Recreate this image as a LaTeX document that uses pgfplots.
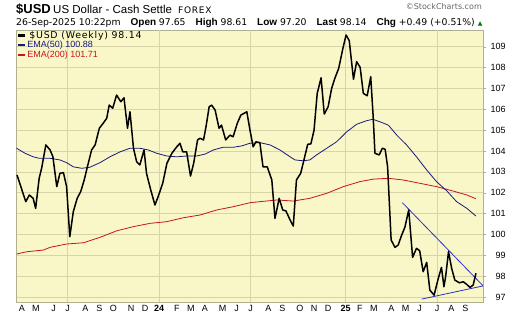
\documentclass[border=0pt]{standalone}
\usepackage{fontspec}
\setmainfont{Liberation Sans}
\newfontfamily\dejavu{DejaVu Sans}
\newfontfamily\dejavuspaced[LetterSpace=8]{DejaVu Sans}
\usepackage{pgfplots}
\pgfplotsset{compat=1.18}
\usepackage{pgfplotstable}

\definecolor{bgyellow}{RGB}{249,247,200}
\definecolor{gridc}{RGB}{214,212,168}
\definecolor{framec}{RGB}{175,175,145}
\definecolor{emablue}{RGB}{25,25,125}
\definecolor{emared}{RGB}{200,20,30}
\definecolor{trendblue}{RGB}{45,45,205}
\definecolor{upgreen}{RGB}{0,120,0}

\newcommand{\hv}[1]{{\dejavu\fontsize{9.3}{10}\selectfont #1}}
\newcommand{\hb}[1]{{\fontsize{10}{10}\selectfont\bfseries #1}}

% weeks relative to Fri 2024-01-05 ; weekly close of $USD
\pgfplotstableread{
w v
-40.4 102.85
-39.3 102.29
-37.9 101.57
-36.9 101.89
-35.8 101.73
-35.1 101.25
-34.1 102.69
-33.4 103.17
-32.2 104.29
-31.0 104.05
-30.2 103.73
-29.1 102.29
-28.2 102.93
-27.2 102.96
-26.3 102.29
-25.4 99.89
-24.4 101.09
-23.3 101.73
-22.3 102.05
-21.3 102.61
-20.4 103.24
-19.2 104.05
-18.2 104.29
-17.0 105.09
-15.9 105.33
-14.9 105.57
-14.2 106.20
-13.2 106.05
-12.1 106.68
-10.9 106.36
-10.0 106.55
-9.0 105.09
-8.3 105.88
-7.3 104.13
-6.4 103.48
-5.5 103.33
-4.3 104.05
-3.6 102.93
-2.4 102.13
-1.2 101.41
-0.3 101.81
1.0 102.45
2.2 103.41
3.6 103.89
5.0 104.20
5.9 104.37
6.7 103.96
7.8 103.96
8.9 102.80
9.8 103.41
10.9 104.53
11.6 104.61
12.6 104.53
13.3 105.16
14.2 106.12
14.9 106.20
15.9 105.96
17.0 105.09
17.7 105.24
18.9 104.53
20.1 104.76
21.0 104.68
22.2 105.33
23.2 105.72
24.9 105.88
25.8 105.00
26.7 104.20
27.5 104.44
28.6 104.40
29.5 103.24
30.7 103.24
32.0 102.61
32.9 100.77
34.1 101.73
35.1 101.17
36.0 101.13
37.2 100.69
38.1 100.40
39.0 102.61
40.2 102.93
40.9 103.41
42.2 104.32
43.1 104.34
44.0 105.00
44.9 106.76
46.0 107.51
46.9 105.77
48.0 106.12
49.0 107.00
49.9 107.48
51.0 107.96
52.2 108.92
53.1 109.56
54.0 109.29
55.2 107.44
56.1 108.28
57.1 108.01
58.0 106.76
59.1 106.65
60.1 107.56
60.8 105.64
61.3 103.89
62.5 103.81
63.4 104.13
64.2 104.08
64.9 103.24
65.9 99.73
67.0 99.38
67.9 99.49
68.9 99.97
69.8 100.34
70.9 101.17
72.0 98.90
73.1 99.33
74.0 99.22
75.0 98.21
76.0 98.66
76.9 97.33
78.1 97.09
79.3 97.89
80.2 98.42
80.9 97.49
81.4 98.00
82.2 99.17
83.1 98.37
84.0 97.81
85.3 97.68
86.4 97.73
87.4 97.60
88.3 97.46
89.2 97.57
90.0 98.14
}\usdtable

\pgfplotstableread{
w v
-40.5 104.13
-38.1 103.89
-35.8 103.72
-34.1 103.65
-31.0 103.65
-28.2 103.57
-26.3 103.44
-24.4 103.24
-22.0 103.17
-19.7 103.22
-16.8 103.44
-14.0 103.72
-11.1 103.96
-8.3 104.13
-5.5 104.13
-3.1 104.05
-0.7 103.89
2.1 103.76
5.0 103.72
7.8 103.76
10.7 103.76
13.0 103.85
15.4 104.05
18.2 104.18
21.1 104.18
23.4 104.24
25.8 104.37
28.6 104.40
31.5 104.29
34.3 104.05
37.2 103.72
38.6 103.57
40.9 103.53
42.8 103.57
44.7 103.81
47.6 104.13
50.4 104.44
53.3 104.92
56.1 105.28
58.9 105.45
60.7 105.52
62.7 105.40
65.1 105.24
67.5 104.76
70.3 104.29
73.1 103.72
76.0 103.09
78.8 102.53
81.7 102.09
84.5 101.57
87.4 101.25
90.0 100.88
}\emafifty

\pgfplotstableread{
w v
-40.5 99.06
-37.6 99.17
-32.9 99.25
-31.0 99.38
-26.3 99.54
-21.5 99.60
-16.8 99.86
-12.1 100.17
-7.4 100.37
-2.6 100.53
2.1 100.61
6.9 100.80
11.6 100.93
16.3 101.17
21.1 101.33
25.8 101.52
28.6 101.57
33.4 101.65
38.1 101.60
42.8 101.73
47.6 101.97
52.3 102.29
57.0 102.53
60.8 102.65
65.1 102.69
69.3 102.61
74.1 102.45
78.8 102.29
83.5 102.08
87.4 101.89
90.0 101.71
}\ematwohundred

\begin{document}
\begin{tikzpicture}[x=1pt,y=1pt]
\begin{axis}[
  name=ax, at={(0,0)}, anchor=south west,
  width=467pt, height=272pt, scale only axis,
  xmin=-40.68, xmax=92, ymin=96.76, ymax=109.8,
  axis background/.style={fill=bgyellow},
  axis line style={framec},
  /pgf/number format/assume math mode=true,
  ticklabel style={font=\fontsize{9}{10}\selectfont},
  ytick={97,...,109},
  ymajorgrids=true,
  major grid style={gridc, line width=0.6pt},
  ytick pos=right, yticklabel pos=right,
  yticklabel style={text width=16pt, align=right},
  xtick pos=bottom,
  tick align=outside,
  major tick length=3pt,
  minor tick length=1.5pt,
  tick style={framec},
  xtick={-39,-35,-30,-26,-21,-17,-13,-8,-4,0,5,9,13,18,22,26,31,35,40,44,48,53,57,61,66,70,74,79,83,87},
  xticklabels={A,M,J,J,A,S,O,N,D,\textbf{24},F,M,A,M,J,J,A,S,O,N,D,\textbf{25},F,M,A,M,J,J,A,S},
  major x tick style={draw=none},
  minor xtick={-40,...,91},
  minor x tick style={framec, line width=0.4pt},
  xticklabel style={inner sep=1pt, yshift=1pt},
  extra x ticks={-26,0,26,53,79},
  extra x tick labels={},
  extra x tick style={grid=major},
  legend style={at={(0,1)}, anchor=north west, draw=none, fill=none,
    inner xsep=1pt, inner ysep=0pt, row sep=-0.5pt,
    font=\fontsize{9}{10}\selectfont,
    nodes={inner sep=1pt}},
  legend cell align=left,
  legend image code/.code={\draw[#1, line width=2.2pt] (0pt,0pt) -- (7pt,0pt);},
]
\addplot[emared, line width=0.8pt, forget plot] table[x=w,y=v] {\ematwohundred};
\addplot[emablue, line width=0.8pt, forget plot] table[x=w,y=v] {\emafifty};
\addplot[trendblue, line width=0.8pt, forget plot] coordinates {(69.1,101.52) (92.0,97.54)};
\addplot[trendblue, line width=0.8pt, forget plot] coordinates {(74.6,96.90) (92.0,97.53)};
\addplot[black, line width=1.5pt, line join=round] table[x=w,y=v] {\usdtable};
\addlegendentry{\hspace{2pt}{\dejavuspaced\fontsize{9.4}{10}\selectfont \$USD (Weekly) 98.14}}
\addlegendimage{emablue}
\addlegendentry{\textcolor{emablue}{EMA(50) 100.88}}
\addlegendimage{emared}
\addlegendentry{\textcolor{emared}{EMA(200) 101.71}}
\end{axis}
\begin{scope}[shift={(ax.south west)}]
\node[anchor=base west, inner sep=0] at (0,288) {\fontsize{13}{13}\selectfont\bfseries \$USD};
\node[anchor=base west, inner sep=0] at (37,288) {\fontsize{11.5}{12}\selectfont US Dollar - Cash Settle};
\node[anchor=base west, inner sep=0] at (162,288) {\dejavuspaced\fontsize{9}{10}\selectfont FOREX};
\node[anchor=base east, inner sep=0, text=black!60] at (466,292) {\dejavu\fontsize{8}{8}\selectfont ©StockCharts.com};
\node[anchor=base west, inner sep=0] at (0,276) {\hv{26-Sep-2025 10:22pm}\hspace{10pt}\hb{Open} \hv{97.65}\hspace{10pt}\hb{High} \hv{98.61}\hspace{10pt}\hb{Low} \hv{97.20}\hspace{10pt}\hb{Last} \hv{98.14}\hspace{10pt}\hb{Chg} \hv{+0.49 (+0.51\%)}\hspace{3pt}{\dejavu\fontsize{6}{6}\selectfont\textcolor{upgreen}{▲}}};
\pgfresetboundingbox
\path[use as bounding box] (-16,-16) rectangle (504,302);
\end{scope}
\end{tikzpicture}
\end{document}
